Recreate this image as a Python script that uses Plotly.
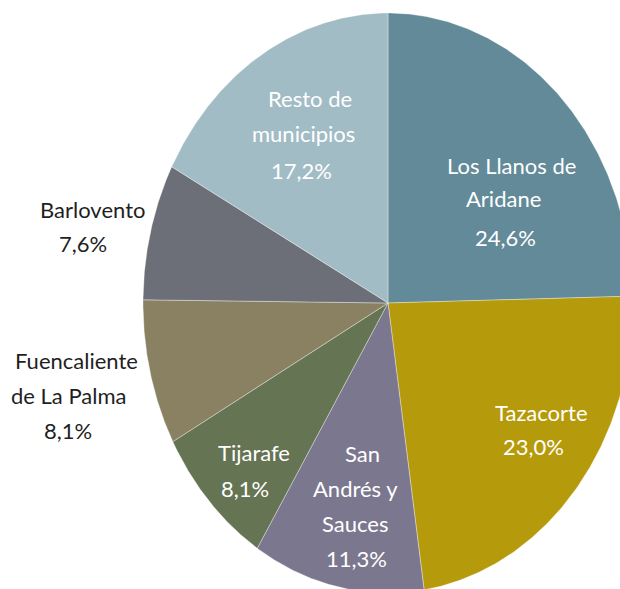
import numpy as np
import plotly.graph_objects as go

# ---------------- data ----------------
municipios = ["Los Llanos de Aridane", "Tazacorte", "San Andrés y Sauces", "Tijarafe",
              "Fuencaliente de La Palma", "Barlovento", "Resto de municipios"]
etiquetas = ["Los Llanos de|Aridane", "Tazacorte", "San|Andrés y|Sauces", "Tijarafe",
             "Fuencaliente|de La Palma", "Barlovento", "Resto de|municipios"]
porcentajes = [24.6, 23.0, 11.3, 8.1, 8.1, 7.6, 17.2]
colores = ["#628A98", "#B59B0B", "#7B778E", "#657453", "#8A8163", "#6C6F78", "#A2BCC6"]

# ---------------- layout / style ----------------
W, H = 620, 589
CX, CY = 388, 303      # pie centre in pixels
RX, RY = 245, 290      # pie radii in pixels (stretched picture)

# label line centres (pixels) for each slice: name lines then percentage line
label_pos = [
    [(511, 165), (503, 199), (505, 237)],
    [(541, 412), (533, 446)],
    [(362, 453), (355, 488), (355, 523), (356, 558)],
    [(254, 452), (245, 488)],
    [(76, 360), (68, 395), (68, 430)],
    [(92, 209), (83, 243)],
    [(310, 98), (303, 133), (301, 170)],
]
inside = [True, True, True, True, False, False, True]

FONT = "Lato, 'Open Sans', sans-serif"
FSIZE = 22

fig = go.Figure()
vals = np.array(porcentajes, dtype=float)
frac = np.concatenate([[0.0], np.cumsum(vals)]) / vals.sum()

for i, (name, v, col) in enumerate(zip(municipios, porcentajes, colores)):
    t = np.linspace(frac[i], frac[i + 1], 160) * 2 * np.pi
    xs = np.concatenate([[0.0], np.sin(t), [0.0]])
    ys = np.concatenate([[0.0], np.cos(t), [0.0]])
    fig.add_trace(go.Scatter(
        x=xs, y=ys, mode="lines", fill="toself", fillcolor=col,
        line=dict(color="rgba(255,255,255,0.35)", width=1),
        name=name, hoveron="fills",
        text=f"{name}: {v:.1f}%".replace(".", ","), hoverinfo="text",
        showlegend=False,
    ))

for i, v in enumerate(porcentajes):
    lines = etiquetas[i].split("|") + [f"{v:.1f}".replace(".", ",") + "%"]
    color = "#ffffff" if inside[i] else "#1f1f1f"
    for line, (px, py) in zip(lines, label_pos[i]):
        fig.add_annotation(
            x=px / W, y=1 - py / H, xref="paper", yref="paper",
            text=line, showarrow=False, xanchor="center", yanchor="middle",
            font=dict(family=FONT, size=FSIZE, color=color),
        )

fig.update_layout(
    width=W, height=H,
    margin=dict(l=0, r=0, t=0, b=0),
    paper_bgcolor="white", plot_bgcolor="white",
    xaxis=dict(range=[-CX / RX, (W - CX) / RX], visible=False, fixedrange=True),
    yaxis=dict(range=[-(H - CY) / RY, CY / RY], visible=False, fixedrange=True),
)

fig.write_html(
    "out.html",
    config={"displayModeBar": False},
    post_script="document.body.style.margin='0';document.body.style.overflow='hidden';",
)
